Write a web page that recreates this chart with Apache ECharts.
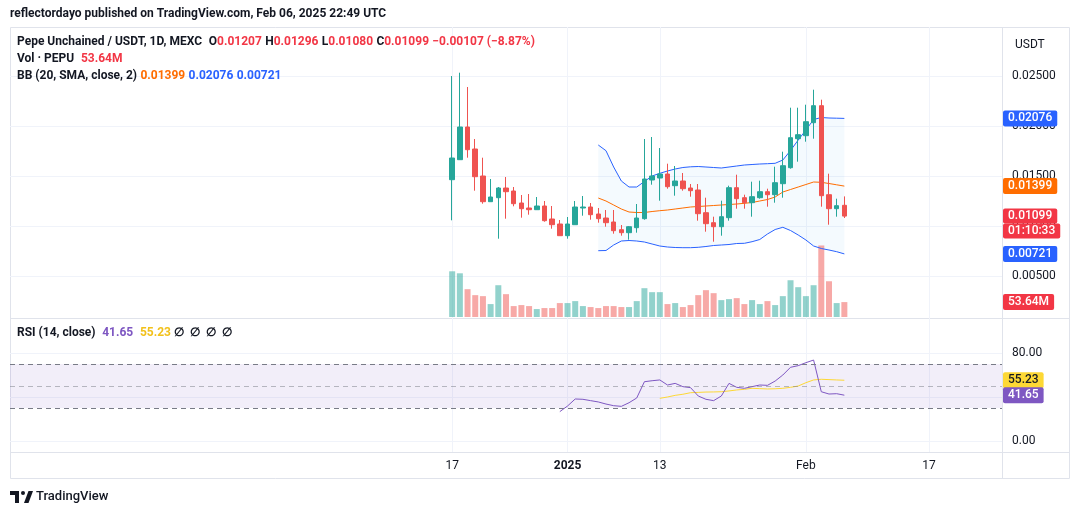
<!DOCTYPE html>
<html>
<head>
<meta charset="utf-8">
<script src="https://cdn.jsdelivr.net/npm/echarts@6/dist/echarts.min.js"></script>
<style>
html, body { margin: 0; padding: 0; background: #fff; }
#chart { width: 1080px; height: 515px; }
</style>
</head>
<body>
<div id="chart"></div>
<script>
// PEPU/USDT daily, Dec 17 2024 - Feb 6 2025
var firstDay = '2024-10-21';
var dayCount = 129;
var candleStart = '2024-12-17';
var bbStart = '2025-01-05';
var rsiStart = '2024-12-31';
var rsiMaStart = '2025-01-13';

var opens = [0.01463, 0.01663, 0.0199, 0.0177, 0.0150, 0.01243, 0.01283, 0.0138, 0.0135, 0.0123, 0.0118, 0.01163, 0.0120,
    0.0107, 0.0102, 0.00903, 0.01013, 0.0118, 0.0119, 0.0112, 0.0108, 0.0104, 0.00963, 0.00933, 0.00983, 0.01073,
    0.0146, 0.0148, 0.0152, 0.01403, 0.0145, 0.0138, 0.0136, 0.01133, 0.01033, 0.00993, 0.01083, 0.01383, 0.01283,
    0.01233, 0.01283, 0.01343, 0.01313, 0.01423, 0.01583, 0.01873, 0.01903, 0.02033, 0.02203, 0.01313, 0.01173, 0.01207];
var closes = [0.0168, 0.0199, 0.01763, 0.01493, 0.01243, 0.0129, 0.0138, 0.01343, 0.01223, 0.01173, 0.01163, 0.0120, 0.01053,
    0.01013, 0.00903, 0.0102, 0.0119, 0.0119, 0.01113, 0.01073, 0.01033, 0.00953, 0.00933, 0.00993, 0.0108, 0.0147,
    0.0150, 0.0152, 0.01393, 0.0145, 0.01373, 0.01353, 0.01123, 0.01023, 0.00993, 0.01093, 0.01383, 0.01273, 0.01233,
    0.01293, 0.01343, 0.01313, 0.01433, 0.01603, 0.01883, 0.01913, 0.02043, 0.02203, 0.01303, 0.01173, 0.01203, 0.01099];
var highs = [0.0250, 0.02533, 0.0239, 0.0187, 0.01683, 0.0147, 0.0139, 0.0149, 0.0139, 0.0131, 0.0132, 0.0129, 0.0125,
    0.0120, 0.0106, 0.0109, 0.0125, 0.0130, 0.0123, 0.0118, 0.0116, 0.0116, 0.0101, 0.0100, 0.0122, 0.0187,
    0.0189, 0.0178, 0.01623, 0.0160, 0.0153, 0.0142, 0.0142, 0.01283, 0.01093, 0.01253, 0.01403, 0.01513, 0.01313,
    0.01443, 0.01453, 0.01373, 0.01593, 0.01743, 0.02183, 0.02183, 0.02213, 0.02363, 0.02263, 0.01523, 0.01273, 0.01296];
var lows = [0.01057, 0.01663, 0.01683, 0.01353, 0.01223, 0.01243, 0.00873, 0.01073, 0.01197, 0.01083, 0.01113, 0.01163, 0.01043,
    0.00973, 0.00903, 0.00873, 0.01013, 0.01103, 0.01063, 0.01033, 0.00993, 0.00923, 0.00903, 0.00863, 0.00933, 0.01063,
    0.01413, 0.01253, 0.01373, 0.01303, 0.01353, 0.01293, 0.01053, 0.00943, 0.00843, 0.00903, 0.01053, 0.01173, 0.01173,
    0.01093, 0.01273, 0.01193, 0.01233, 0.01283, 0.01573, 0.01643, 0.01843, 0.01873, 0.01193, 0.01013, 0.01093, 0.01080];
// volume in millions
var volumes = [164.5, 157.3, 100.1, 78.7, 75.1, 46.5, 114.4, 82.2, 39.3, 42.9, 39.3, 28.6, 32.2,
    32.2, 50.1, 50.1, 57.2, 39.3, 35.8, 32.2, 39.3, 39.3, 35.8, 35.8, 57.2, 103.7,
    89.4, 89.4, 46.5, 50.1, 35.8, 42.9, 78.7, 96.6, 85.8, 60.8, 64.4, 67.9, 46.5,
    60.8, 46.5, 57.2, 42.9, 75.1, 132.3, 107.3, 75.1, 114.4, 257.5, 128.7, 50.1, 53.64];

var bbUpper = [0.0181, 0.01753, 0.0159, 0.0145, 0.0139, 0.0139, 0.01445, 0.0150, 0.01527, 0.0155, 0.0157, 0.01585, 0.01592,
    0.01595, 0.0159, 0.01585, 0.0158, 0.0159, 0.0160, 0.0161, 0.01615, 0.0162, 0.01623, 0.01627, 0.0166, 0.01755,
    0.0186, 0.0196, 0.02065, 0.02085, 0.0208, 0.02078, 0.02076];
var bbBasis = [0.0128, 0.0125, 0.0121, 0.0117, 0.0114, 0.01135, 0.01135, 0.01145, 0.01153, 0.0116, 0.0117, 0.0118, 0.0119,
    0.01195, 0.0120, 0.01205, 0.0121, 0.01215, 0.0122, 0.01227, 0.01235, 0.0125, 0.01265, 0.0129, 0.0134, 0.01365,
    0.0139, 0.01415, 0.0144, 0.01437, 0.01425, 0.01412, 0.01399];
var bbLower = [0.00753, 0.00755, 0.0081, 0.0085, 0.00855, 0.0085, 0.0084, 0.0082, 0.0080, 0.0079, 0.00785, 0.00783, 0.00783,
    0.00787, 0.00795, 0.00805, 0.0081, 0.00815, 0.00825, 0.00827, 0.00843, 0.00865, 0.0092, 0.00965, 0.00987, 0.00955,
    0.0091, 0.0086, 0.0080, 0.00775, 0.0076, 0.00743, 0.00721];

var rsi = [26.7, 31.8, 38.2, 37.9, 36.7, 35.5, 33.6, 32.1, 31.5, 34.8, 39.1, 53.9, 54.8, 55.5, 50.9, 52.4, 49.4, 48.5, 40.9,
    37.9, 36.7, 40.9, 52.4, 48.8, 47.9, 49.4, 50.9, 50.6, 54.5, 60, 67, 68.5, 71.2, 73.6, 44.8, 42.7, 43, 41.65];
var rsiMa = [38.8, 40.0, 41.5, 42.5, 43.9, 44.2, 44.5, 44.6, 44.8, 45.5, 46.4, 47.0, 47.9, 47.6, 47.3, 47.5, 47.9, 48.8, 50.0,
    53.0, 55.5, 56.1, 55.8, 55.5, 55.23];

// last values shown as tags on the price scales
var priceTags = [0.02076, 0.01399, 0.01099, 0.00721];
var priceTagStyles = ['blue', 'orange', 'red', 'blue'];
var volumeTags = [53.64];
var rsiTag = [41.65];
var rsiMaTag = [55.23];
var countdown = '01:10:33';

var tickDates = ['2024-12-17', '2025-01-01', '2025-01-13', '2025-02-01', '2025-02-17'];
var tickLabels = ['17', '2025', '13', 'Feb', '17'];

var FONT = 'Roboto, "Noto Sans", sans-serif';
var UP = '#26a69a', DOWN = '#ef5350';
var CLEAR = 'rgba(0,0,0,0)';

var dates = [];
var d0 = new Date(firstDay + 'T00:00:00Z').getTime();
for (var i = 0; i < dayCount; i++) {
    dates.push(new Date(d0 + i * 86400000).toISOString().slice(0, 10));
}

// put a short array on the full date axis
function place(values, start) {
    var k = dates.indexOf(start);
    var out = [];
    for (var i = 0; i < dayCount; i++) {
        var j = i - k;
        out.push(j >= 0 && j < values.length ? values[j] : '-');
    }
    return out;
}

var candles = [], vols = [], bbWidth = [];
for (var i = 0; i < opens.length; i++) {
    candles.push([opens[i], closes[i], lows[i], highs[i]]);
    vols.push({
        value: volumes[i],
        itemStyle: { color: closes[i] >= opens[i] ? 'rgba(38,166,154,0.5)' : 'rgba(239,83,80,0.5)' }
    });
}
for (var i = 0; i < bbUpper.length; i++) {
    bbWidth.push(bbUpper[i] - bbLower[i]);
}
var candleData = place(candles, candleStart).map(function (c) { return c === '-' ? ['-', '-', '-', '-'] : c; });

function tagStyle(bg, fg, lh) {
    return {
        backgroundColor: bg, color: fg, padding: [0, 5], lineHeight: lh, height: lh, borderRadius: 2,
        fontSize: 12, fontWeight: 500, fontFamily: FONT
    };
}
var tagRich = {
    blue: tagStyle('#2962ff', '#fff', 16),
    orange: tagStyle('#ff6d00', '#fff', 16),
    red: tagStyle('#f23645', '#fff', 15),
    yellow: tagStyle('#fdd835', '#131722', 16),
    purple: tagStyle('#7e57c2', '#fff', 16),
    vol: tagStyle('#f23645', '#fff', 16),
    gap: { lineHeight: 15, height: 15, fontSize: 12 }
};
// extra axis that only draws the value tags
function tagAxis(grid, min, max, values, styles, fmt) {
    return {
        type: 'value', gridIndex: grid, position: 'right', min: min, max: max,
        axisLine: { show: false }, axisTick: { show: false }, splitLine: { show: false },
        axisLabel: {
            show: true, customValues: values, margin: 1, rich: tagRich,
            formatter: function (v) {
                var s = styles[values.indexOf(v)];
                var t = fmt(v);
                if (s === 'red') return '{gap| }\n{red|' + t + '}\n{red|' + countdown + '}';
                return '{' + s + '|' + t + '}';
            }
        }
    };
}

var hidden = { show: false };
function catAxis(grid) {
    return {
        type: 'category', gridIndex: grid, data: dates, boundaryGap: true,
        axisLine: hidden, axisTick: hidden, axisLabel: hidden, splitLine: hidden
    };
}
function isTick(index, value) { return tickDates.indexOf(value) >= 0; }
function two(v) { return v.toFixed(2); }

var chart = echarts.init(document.getElementById('chart'));
var rich = {
    d: { color: '#131722', fontSize: 12, fontFamily: FONT },
    r: { color: '#f23645', fontSize: 12, fontFamily: FONT },
    o: { color: '#ff6d00', fontSize: 12, fontFamily: FONT },
    b: { color: '#2962ff', fontSize: 12, fontFamily: FONT },
    p: { color: '#7e57c2', fontSize: 12, fontFamily: FONT },
    y: { color: '#f2c11b', fontSize: 12, fontFamily: FONT }
};
function head(left, top, text) {
    return { left: left, top: top, padding: 0, text: text, textStyle: { rich: rich, fontSize: 12 } };
}

var option = {
    animation: false,
    backgroundColor: '#ffffff',
    title: [
        head(10, 8, '{d|reflectordayo published on TradingView.com, Feb 06, 2025 22:49 UTC}'),
        head(17, 36, '{d|Pepe Unchained / USDT, 1D, MEXC}  {d|O}{r|0.01207} {d|H}{r|0.01296} {d|L}{r|0.01080} {d|C}{r|0.01099} {r|\u22120.00107 (\u22128.87%)}'),
        head(17, 53, '{d|Vol \u00b7 PEPU}  {r|53.64M}'),
        head(17, 70, '{d|BB (20, SMA, close, 2)} {o|0.01399} {b|0.02076} {b|0.00721}'),
        head(17, 327, '{d|RSI (14, close)}  {p|41.65}  {y|55.23} {d|\u2205  \u2205  \u2205  \u2205}')
    ],
    grid: [
        { left: 10, top: 26, width: 992, height: 300 },
        { left: 10, top: 217, width: 992, height: 100 },
        { left: 10, top: 353, width: 992, height: 88 },
        { left: 10 + 992 / 129 / 2, top: 27, width: 992 / 129 * 128, height: 425 }
    ],
    xAxis: [
        catAxis(0), catAxis(1), catAxis(2),
        {
            type: 'category', gridIndex: 3, data: dates, boundaryGap: false,
            axisLine: hidden, axisTick: hidden,
            splitLine: { show: true, interval: isTick, lineStyle: { color: '#f0f3fa', width: 1 } },
            axisLabel: {
                interval: isTick, margin: 8, color: '#131722', fontSize: 12, fontFamily: FONT,
                formatter: function (v) {
                    var t = tickLabels[tickDates.indexOf(v)];
                    return t === '2025' ? '{b|' + t + '}' : t;
                },
                rich: { b: { fontWeight: 'bold', fontSize: 12, color: '#131722', fontFamily: FONT } }
            }
        }
    ],
    yAxis: [
        {
            type: 'value', gridIndex: 0, position: 'right', min: 0, max: 0.03, interval: 0.005,
            axisLine: hidden, axisTick: hidden,
            axisLabel: {
                margin: 10, color: '#131722', fontSize: 12, fontFamily: FONT,
                formatter: function (v) { return (v < 0.0001 || v > 0.0299) ? '' : v.toFixed(5); }
            },
            splitLine: {
                lineStyle: { color: [CLEAR, '#f0f3fa', '#f0f3fa', '#f0f3fa', '#f0f3fa', '#f0f3fa', CLEAR] }
            }
        },
        { type: 'value', gridIndex: 1, min: 0, max: 360, show: false },
        {
            type: 'value', gridIndex: 2, position: 'right', min: 0, max: 80, interval: 40,
            axisLine: hidden, axisTick: hidden,
            axisLabel: {
                margin: 10, color: '#131722', fontSize: 12, fontFamily: FONT,
                formatter: function (v) { return v === 40 ? '' : v.toFixed(2); }
            },
            splitLine: { lineStyle: { color: '#f0f3fa' } }
        },
        { type: 'value', gridIndex: 3, min: 0, max: 1, show: false },
        tagAxis(0, 0, 0.03, priceTags, priceTagStyles, function (v) { return v.toFixed(5); }),
        tagAxis(1, 0, 360, volumeTags, ['vol'], function (v) { return two(v) + 'M'; }),
        tagAxis(2, 0, 80, rsiMaTag, ['yellow'], two),
        tagAxis(2, 0, 80, rsiTag, ['purple'], two)
    ],
    series: [
        {
            name: 'vol', type: 'bar', xAxisIndex: 1, yAxisIndex: 1, barWidth: 6,
            data: place(vols, candleStart), z: 1
        },
        {
            name: 'bbBase', type: 'line', xAxisIndex: 0, yAxisIndex: 0, stack: 'bb', symbol: 'none',
            data: place(bbLower, bbStart), lineStyle: { opacity: 0 }, silent: true, z: 1
        },
        {
            name: 'bbFill', type: 'line', xAxisIndex: 0, yAxisIndex: 0, stack: 'bb', symbol: 'none',
            data: place(bbWidth, bbStart), lineStyle: { opacity: 0 }, silent: true, z: 1,
            areaStyle: { color: 'rgba(33,150,243,0.05)', opacity: 1 }
        },
        {
            name: 'upper', type: 'line', xAxisIndex: 0, yAxisIndex: 0, symbol: 'none',
            data: place(bbUpper, bbStart), lineStyle: { color: '#2962ff', width: 1 }, z: 2
        },
        {
            name: 'basis', type: 'line', xAxisIndex: 0, yAxisIndex: 0, symbol: 'none',
            data: place(bbBasis, bbStart), lineStyle: { color: '#ff6d00', width: 1 }, z: 2
        },
        {
            name: 'lower', type: 'line', xAxisIndex: 0, yAxisIndex: 0, symbol: 'none',
            data: place(bbLower, bbStart), lineStyle: { color: '#2962ff', width: 1 }, z: 2
        },
        {
            name: 'price', type: 'candlestick', xAxisIndex: 0, yAxisIndex: 0, barWidth: 5, z: 3,
            data: candleData,
            itemStyle: { color: UP, color0: DOWN, borderColor: UP, borderColor0: DOWN, borderWidth: 1 }
        },
        {
            name: 'rsi', type: 'line', xAxisIndex: 2, yAxisIndex: 2, symbol: 'none',
            data: place(rsi, rsiStart), lineStyle: { color: '#7e57c2', width: 1 }, z: 3,
            markArea: {
                silent: true, itemStyle: { color: 'rgba(126,87,194,0.1)' },
                data: [[{ yAxis: 30 }, { yAxis: 70 }]]
            },
            markLine: {
                silent: true, symbol: 'none', animation: false,
                label: { show: false },
                data: [
                    { yAxis: 70, lineStyle: { color: '#787b86', type: [5, 4], width: 1 } },
                    { yAxis: 50, lineStyle: { color: 'rgba(120,123,134,0.5)', type: [5, 4], width: 1 } },
                    { yAxis: 30, lineStyle: { color: '#787b86', type: [5, 4], width: 1 } }
                ]
            }
        },
        {
            name: 'rsiMa', type: 'line', xAxisIndex: 2, yAxisIndex: 2, symbol: 'none',
            data: place(rsiMa, rsiMaStart), lineStyle: { color: '#fdd835', width: 1 }, z: 2
        }
    ],
    graphic: [
        { type: 'rect', shape: { x: 10.5, y: 27.5, width: 1059, height: 451 }, style: { fill: 'none', stroke: '#e0e3eb', lineWidth: 1 }, silent: true },
        { type: 'line', shape: { x1: 1002.5, y1: 27, x2: 1002.5, y2: 478 }, style: { stroke: '#e0e3eb', lineWidth: 1 }, silent: true },
        { type: 'line', shape: { x1: 10, y1: 318.5, x2: 1070, y2: 318.5 }, style: { stroke: '#e0e3eb', lineWidth: 1 }, silent: true },
        { type: 'line', shape: { x1: 10, y1: 452.5, x2: 1070, y2: 452.5 }, style: { stroke: '#e0e3eb', lineWidth: 1 }, silent: true },
        { type: 'text', left: 1015, top: 39, style: { text: 'USDT', fill: '#131722', font: '12px ' + FONT }, silent: true },
        { type: 'rect', shape: { x: 10, y: 491, width: 9, height: 4 }, style: { fill: '#131722' }, silent: true },
        { type: 'rect', shape: { x: 15, y: 491, width: 4, height: 12 }, style: { fill: '#131722' }, silent: true },
        { type: 'circle', shape: { cx: 23, cy: 493, r: 2 }, style: { fill: '#131722' }, silent: true },
        { type: 'polygon', shape: { points: [[24, 503], [28.5, 491], [33, 491], [28.5, 503]] }, style: { fill: '#131722' }, silent: true },
        { type: 'text', left: 36, top: 490, style: { text: 'TradingView', fill: '#131722', font: '500 13px ' + FONT }, silent: true }
    ]
};
chart.setOption(option);
</script>
</body>
</html>
